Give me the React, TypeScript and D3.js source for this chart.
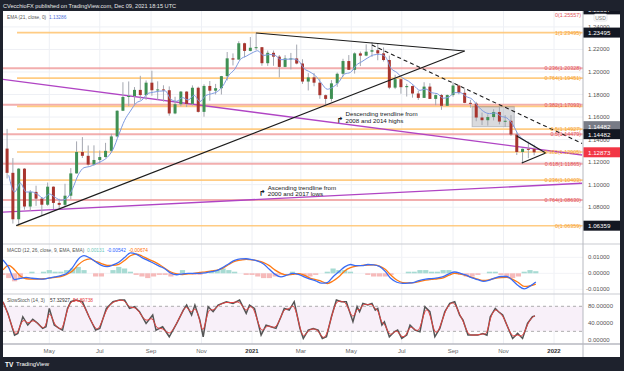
import React from "react";
import * as d3 from "d3";

const FONT = "Liberation Sans, Arial, sans-serif";
const parse = d3.timeParse("%Y-%m-%d");

// weekly candles, one per trading week (Monday start)
const weekStarts = d3.timeMonday.range(new Date(2020, 2, 9), new Date(2021, 11, 7));
const firstOpen = 1.132;
const weeklyHigh = [
  1.1495, 1.1236, 1.1147, 1.1147, 1.0952, 1.0991, 1.089, 1.1019, 1.0985, 1.0875,
  1.1008, 1.1147, 1.1384, 1.1422, 1.1348, 1.1349, 1.1303, 1.1371, 1.1452, 1.166,
  1.1909, 1.1916, 1.1866, 1.1966, 1.1925, 1.2011, 1.1917, 1.1882, 1.1872, 1.178,
  1.1831, 1.1829, 1.1881, 1.187, 1.1891, 1.192, 1.1894, 1.1965, 1.2177, 1.2165,
  1.2273, 1.226, 1.231, 1.2349, 1.2222, 1.219, 1.219, 1.215, 1.2149, 1.2169,
  1.2243, 1.2113, 1.1989, 1.199, 1.1942, 1.18, 1.1928, 1.1995, 1.2117, 1.215,
  1.2174, 1.2181, 1.2245, 1.2266, 1.2254, 1.2218, 1.2145, 1.1975, 1.1938, 1.1895,
  1.188, 1.1833, 1.1909, 1.19, 1.18, 1.1805, 1.18, 1.1909, 1.1886, 1.185,
  1.1752, 1.1735, 1.164, 1.1624, 1.1669, 1.1692, 1.1617, 1.1617, 1.1464, 1.132,
  1.1383, 1.1355,
];
const weeklyLow = [
  1.1055, 1.0655, 1.0636, 1.0778, 1.0768, 1.0812, 1.0727, 1.0812, 1.0783, 1.0775,
  1.0806, 1.087, 1.1098, 1.1237, 1.1169, 1.1168, 1.1186, 1.124, 1.129, 1.142,
  1.1653, 1.1696, 1.1711, 1.1753, 1.1753, 1.1789, 1.1753, 1.1737, 1.1612, 1.1625,
  1.1695, 1.1689, 1.1702, 1.164, 1.1603, 1.1745, 1.18, 1.18, 1.1925, 1.2058,
  1.211, 1.213, 1.2183, 1.2193, 1.2055, 1.2054, 1.2055, 1.1952, 1.2042, 1.2023,
  1.2068, 1.1894, 1.1836, 1.1873, 1.1762, 1.1704, 1.1738, 1.1868, 1.196, 1.2018,
  1.1986, 1.2052, 1.214, 1.2134, 1.2104, 1.2093, 1.1847, 1.1848, 1.1807, 1.1782,
  1.1772, 1.1752, 1.177, 1.176, 1.1705, 1.1664, 1.17, 1.178, 1.1802, 1.1723,
  1.1684, 1.1563, 1.1529, 1.1524, 1.157, 1.1535, 1.1513, 1.1432, 1.1263, 1.1186,
  1.1235, 1.126,
];
const weeklyClose = [
  1.1105, 1.0693, 1.1142, 1.0806, 1.0936, 1.0876, 1.0822, 1.0982, 1.0838, 1.0821,
  1.0902, 1.11, 1.129, 1.1256, 1.1178, 1.1219, 1.1245, 1.13, 1.1428, 1.1656,
  1.1778, 1.1787, 1.1841, 1.1795, 1.1905, 1.1838, 1.1845, 1.1838, 1.1632, 1.1714,
  1.1826, 1.1717, 1.186, 1.1646, 1.1876, 1.1834, 1.1856, 1.1963, 1.2121, 1.211,
  1.2255, 1.2187, 1.2215, 1.222, 1.2078, 1.217, 1.2136, 1.2045, 1.212, 1.212,
  1.2075, 1.1915, 1.1952, 1.1905, 1.1794, 1.1761, 1.1899, 1.1984, 1.2097, 1.2019,
  1.2165, 1.2145, 1.218, 1.2193, 1.2165, 1.2106, 1.1861, 1.1936, 1.1865, 1.1875,
  1.1809, 1.177, 1.187, 1.1761, 1.1795, 1.17, 1.1795, 1.188, 1.1815, 1.1726,
  1.172, 1.1596, 1.1572, 1.16, 1.1645, 1.156, 1.1567, 1.1445, 1.129, 1.1318,
  1.1316, 1.1287,
];
const emaStart = 1.107;

// MACD (12, 26, 9) read weekly (Friday samples)
const macdWeeks = d3.timeFriday.range(new Date(2020, 2, 6), new Date(2021, 11, 11));
const macdLine = [
  0.0083, 0.0035, -0.004, -0.0032, -0.0026, -0.0031, -0.0034, -0.0036, -0.0029, -0.0022,
  -0.0014, -0.0001, 0.0035, 0.0088, 0.011, 0.0096, 0.0072, 0.005, 0.0042, 0.0052,
  0.0069, 0.0098, 0.0128, 0.012, 0.0098, 0.0081, 0.0063, 0.0045, 0.0027, 0.0001,
  -0.0009, -0.0003, 0.0, 0.0, 0.0, 0.0003, 0.001, 0.0018, 0.0038, 0.006,
  0.0081, 0.009, 0.0091, 0.0085, 0.0076, 0.0058, 0.0025, -0.0007, -0.0022, -0.0012,
  -0.0001, -0.0006, -0.0022, -0.0036, -0.0047, -0.0062, -0.0058, -0.0021, 0.001, 0.004,
  0.0055, 0.0048, 0.0048, 0.0055, 0.0053, 0.0043, 0.0012, -0.0033, -0.0056, -0.0063,
  -0.0061, -0.0056, -0.0044, -0.0036, -0.0033, -0.0028, -0.0021, -0.0003, 0.0008, 0.0,
  -0.0012, -0.0029, -0.004, -0.005, -0.0042, -0.0028, -0.002, -0.002, -0.0045, -0.0078,
  -0.0097, -0.008, -0.0054,
];
const signalLine = [
  0.0021, 0.005, 0.0022, -0.0017, -0.0034, -0.0037, -0.0036, -0.0034, -0.003, -0.0025,
  -0.002, -0.0007, 0.0015, 0.0053, 0.008, 0.009, 0.0075, 0.0061, 0.005, 0.0049,
  0.0056, 0.008, 0.011, 0.012, 0.0108, 0.009, 0.0074, 0.0055, 0.003, 0.0008,
  -0.0004, -0.0008, -0.0004, 0.0, 0.0005, 0.0009, 0.0015, 0.002, 0.0032, 0.0055,
  0.0075, 0.0082, 0.0087, 0.0084, 0.0078, 0.0067, 0.0048, 0.002, 0.0, -0.001,
  -0.0006, -0.0002, -0.0012, -0.003, -0.004, -0.005, -0.0064, -0.0048, -0.0022, 0.0015,
  0.0035, 0.0045, 0.005, 0.0052, 0.0053, 0.0045, 0.0025, -0.0012, -0.0042, -0.0058,
  -0.006, -0.0058, -0.005, -0.0043, -0.0038, -0.0034, -0.0028, -0.0012, 0.0, -0.0005,
  -0.0014, -0.0025, -0.0037, -0.0045, -0.004, -0.0031, -0.0027, -0.0026, -0.0038, -0.0058,
  -0.0082, -0.0078, -0.0067,
];
const macdHist = [
  -0.001, -0.003, -0.005, -0.003, 0.0, 0.001, 0.0, 0.001, 0.002, 0.001,
  0.001, 0.002, 0.003, 0.004, 0.002, 0.0, -0.002, -0.002, 0.0, 0.002,
  0.004, 0.003, 0.001, -0.001, -0.002, -0.003, -0.002, -0.001, -0.001, -0.002,
  -0.001, 0.002, 0.0, -0.001, -0.001, 0.0, 0.001, 0.002, 0.003, 0.002,
  0.001, 0.0, -0.001, -0.001, -0.002, -0.003, -0.003, -0.002, -0.001, 0.0,
  0.001, -0.001, -0.002, -0.002, -0.001, 0.0, 0.001, 0.003, 0.002, 0.002,
  0.001, 0.0, 0.0, -0.001, -0.002, -0.002, -0.002, -0.001, 0.0, 0.0,
  0.001, 0.001, 0.002, 0.002, 0.001, 0.001, 0.002, 0.002, 0.0, -0.001,
  -0.002, -0.002, -0.001, 0.0, 0.001, 0.001, -0.001, -0.002, -0.003, -0.002,
  0.001, 0.002, 0.0013,
];

// Slow stochastic (14, 3) turning points
const stochK: [string, number][] = [
  ["2020-03-06", 91], ["2020-03-12", 63], ["2020-03-20", 11], ["2020-03-24", 15], ["2020-03-30", 55],
  ["2020-04-05", 35], ["2020-04-11", 49], ["2020-04-17", 39], ["2020-04-23", 27], ["2020-04-27", 31],
  ["2020-05-01", 75], ["2020-05-07", 35], ["2020-05-13", 27], ["2020-05-17", 23], ["2020-05-23", 75],
  ["2020-05-27", 91], ["2020-06-02", 95], ["2020-06-10", 91], ["2020-06-18", 55], ["2020-06-26", 23],
  ["2020-07-01", 27], ["2020-07-09", 75], ["2020-07-17", 91], ["2020-07-25", 95], ["2020-07-31", 95],
  ["2020-08-06", 75], ["2020-08-12", 79], ["2020-08-18", 67], ["2020-08-26", 39], ["2020-09-03", 59],
  ["2020-09-07", 23], ["2020-09-15", 31], ["2020-09-23", 7], ["2020-10-02", 39], ["2020-10-10", 71],
  ["2020-10-14", 83], ["2020-10-20", 59], ["2020-10-24", 83], ["2020-10-30", 47], ["2020-11-03", 7],
  ["2020-11-09", 79], ["2020-11-15", 67], ["2020-11-21", 83], ["2020-12-01", 91], ["2020-12-09", 87],
  ["2020-12-17", 95], ["2020-12-25", 63], ["2020-12-29", 83], ["2021-01-04", 75], ["2021-01-12", 11],
  ["2021-01-18", 35], ["2021-01-24", 31], ["2021-01-30", 27], ["2021-02-05", 55], ["2021-02-09", 75],
  ["2021-02-15", 71], ["2021-02-21", 91], ["2021-02-28", 27], ["2021-03-04", 3], ["2021-03-10", 23],
  ["2021-03-16", 27], ["2021-03-22", 23], ["2021-03-27", 3], ["2021-04-01", 7], ["2021-04-07", 55],
  ["2021-04-13", 95], ["2021-04-19", 91], ["2021-04-25", 91], ["2021-05-03", 43], ["2021-05-08", 79],
  ["2021-05-11", 67], ["2021-05-15", 87], ["2021-05-21", 83], ["2021-05-26", 87], ["2021-05-30", 71],
  ["2021-06-02", 75], ["2021-06-07", 35], ["2021-06-10", 43], ["2021-06-16", 7], ["2021-06-22", 19],
  ["2021-06-26", 23], ["2021-07-01", 3], ["2021-07-07", 11], ["2021-07-11", 35], ["2021-07-17", 23],
  ["2021-07-23", 19], ["2021-07-29", 79], ["2021-08-04", 67], ["2021-08-10", 7], ["2021-08-16", 27],
  ["2021-08-22", 67], ["2021-08-28", 87], ["2021-09-03", 91], ["2021-09-09", 59], ["2021-09-13", 47],
  ["2021-09-19", 11], ["2021-09-25", 11], ["2021-10-01", 11], ["2021-10-07", 15], ["2021-10-12", 11],
  ["2021-10-16", 55], ["2021-10-22", 75], ["2021-10-26", 67], ["2021-10-31", 59], ["2021-11-05", 35],
  ["2021-11-12", 3], ["2021-11-18", 15], ["2021-11-24", 3], ["2021-11-30", 39], ["2021-12-06", 55],
  ["2021-12-09", 57],
];

// Fibonacci retracements
const fibOrange: [string, number][] = [
  ["1", 1.23495], ["0.764", 1.19451], ["0.618", 1.16949], ["0.5", 1.14927],
  ["0.382", 1.12905], ["0.236", 1.10403], ["0", 1.06359],
];
const fibRed: [string, number][] = [
  ["0", 1.25557], ["0.236", 1.20328], ["0.382", 1.17093], ["0.5", 1.14479],
  ["0.618", 1.11865], ["0.764", 1.0863],
];
const fibOrangeStart = "2020-03-23";

// drawn trendlines: [date, price, date, price]
const blackLines: [string, number, string, number][] = [
  ["2020-03-22", 1.0636, "2021-09-15", 1.2186],
  ["2021-01-06", 1.2346, "2021-09-15", 1.2186],
  ["2021-11-17", 1.1432, "2021-12-22", 1.1281],
  ["2021-11-23", 1.1192, "2021-12-22", 1.1281],
];
const dashedLine: [string, number, string, number] = ["2021-05-26", 1.2239, "2022-02-04", 1.1366];
const purpleLines: [string, number, string, number][] = [
  ["2020-03-02", 1.1938, "2022-02-04", 1.1263],
  ["2020-03-02", 1.0755, "2022-02-04", 1.1012],
];
const consolidationBox: [string, number, string, number] = ["2021-09-24", 1.1692, "2021-11-14", 1.1514];

const notes = [
  { date: "2021-04-24", price: 1.163, lines: ["Descending trendline from", "2008 and 2014 highs"] },
  { date: "2021-01-20", price: 1.0977, lines: ["Ascending trendline from", "2000 and 2017 lows"] },
];

const priceTicks = [1.08, 1.1, 1.12, 1.14, 1.16, 1.18, 1.2, 1.22, 1.24];
const priceBadges = [
  { v: 1.25557, fill: "#131722", dy: 0 },
  { v: 1.23495, fill: "#131722", dy: 0 },
  { v: 1.14482, fill: "#787b86", dy: -8 },
  { v: 1.14482, fill: "#131722", dy: 0 },
  { v: 1.12873, fill: "#f23645", dy: 0 },
  { v: 1.06359, fill: "#131722", dy: 0 },
];

// pane legends: [text, colour, x]
const emaLegend: [string, string, number][] = [
  ["EMA (21, close, 0)", "#555", 7],
  ["1.13286", "#4f6fd8", 49],
];
const macdLegend: [string, string, number][] = [
  ["MACD (12, 26, close, 9, EMA, EMA)", "#555", 7],
  ["0.00131", "#6cc5b9", 87],
  ["-0.00542", "#2962ff", 107],
  ["-0.00674", "#ff6d00", 129],
];
const stochLegend: [string, string, number][] = [
  ["SlowStoch (14, 3)", "#555", 7],
  ["57.32927", "#333", 50],
  ["54.89738", "#e8413f", 73],
];

const L = 3, R = 583, AX = 620;
const MAIN_T = 11, MAIN_B = 244, MACD_B = 294, STOCH_B = 344, TIME_B = 357;

function Legend({ items, y }: { items: [string, string, number][]; y: number }) {
  return (
    <g fontSize={4.8} dominantBaseline="central">
      {items.map(([t, c, x0]) => (
        <text key={t} x={x0} y={y} fill={c}>{t}</text>
      ))}
    </g>
  );
}

export default function App() {
  const x = d3.scaleTime().domain([new Date(2021, 0, 1), new Date(2022, 0, 1)]).range([252, 554]);
  const yP = d3.scaleLinear().domain([1.08, 1.24]).range([207.2, 26.9]);
  const yM = d3.scaleLinear().domain([-0.01, 0.01]).range([289.3, 257.3]);
  const yS = d3.scaleLinear().domain([0, 80]).range([339.7, 306.3]);

  const timeTicks = d3.timeMonth.every(2)!.range(new Date(2020, 3, 2), new Date(2022, 0, 2));
  const fmtTick = (d: Date) => (d.getMonth() === 0 ? d3.timeFormat("%Y")(d) : d3.timeFormat("%b")(d));

  const ema: [Date, number][] = [];
  let e = emaStart;
  weeklyClose.forEach((c, i) => {
    e = e + 0.38 * (c - e);
    ema.push([d3.timeDay.offset(weekStarts[i], 4), e]);
  });
  const emaPath = d3.line<[Date, number]>().x((d) => x(d[0])).y((d) => yP(d[1])).curve(d3.curveMonotoneX)(ema);

  const mLine = (vals: number[]) =>
    d3.line<number>().x((_, i) => x(macdWeeks[i])).y((v) => yM(v)).curve(d3.curveMonotoneX)(vals);

  const stochPts = stochK.map(([d, v]) => [parse(d)!, v] as [Date, number]);
  const kPath = d3.line<[Date, number]>().x((d) => x(d[0])).y((d) => yS(d[1]))(stochPts);
  const dPath = d3.line<[Date, number]>().x((d) => x(d[0])).y((d) => yS(d[1])).curve(d3.curveBasis)(stochPts);

  const seg = (s: [string, number, string, number]) => ({
    x1: x(parse(s[0])!), y1: yP(s[1]), x2: x(parse(s[2])!), y2: yP(s[3]),
  });
  const box = seg(consolidationBox);

  return (
    <svg width={624} height={371} style={{ position: "fixed", left: 0, top: 0, background: "#fff" }} fontFamily={FONT}>
      <defs>
        <clipPath id="mainClip"><rect x={L} y={MAIN_T} width={R - L} height={MAIN_B - MAIN_T} /></clipPath>
        <clipPath id="macdClip"><rect x={L} y={MAIN_B} width={R - L} height={MACD_B - MAIN_B} /></clipPath>
        <clipPath id="stochClip"><rect x={L} y={MACD_B} width={R - L} height={STOCH_B - MACD_B} /></clipPath>
      </defs>
      <rect x={0} y={0} width={624} height={371} fill="#fff" />

      {/* grid */}
      {timeTicks.map((d, i) => (
        <line key={i} x1={x(d)} x2={x(d)} y1={MAIN_T} y2={STOCH_B} stroke="#eef0f5" />
      ))}
      {priceTicks.map((p) => (
        <line key={p} x1={L} x2={R} y1={yP(p)} y2={yP(p)} stroke="#eef0f5" />
      ))}

      {/* main pane */}
      <g clipPath="url(#mainClip)">
        {fibRed.map(([k, p]) => (
          <line key={"r" + k} x1={L} x2={R} y1={yP(p)} y2={yP(p)} stroke="#f09a9a" strokeWidth={2} opacity={0.8} />
        ))}
        {fibOrange.map(([k, p]) => (
          <line key={"o" + k} x1={x(parse(fibOrangeStart)!)} x2={R} y1={yP(p)} y2={yP(p)} stroke="#ffc777" strokeWidth={1.6} opacity={0.9} />
        ))}
        <rect x={box.x1} y={box.y1} width={box.x2 - box.x1} height={box.y2 - box.y1} fill="rgba(120,123,134,0.28)" stroke="rgba(120,123,134,0.4)" />
        {purpleLines.map((s, i) => (
          <line key={i} {...seg(s)} stroke="#b044c4" strokeWidth={1.4} />
        ))}
        {weekStarts.map((d, i) => {
          const cx = x(d3.timeDay.offset(d, 2));
          const o = i === 0 ? firstOpen : weeklyClose[i - 1];
          const c = weeklyClose[i];
          const top = yP(Math.max(o, c));
          const h = Math.max(1, Math.abs(yP(o) - yP(c)));
          return (
            <g key={i}>
              <line x1={cx} x2={cx} y1={yP(weeklyHigh[i])} y2={yP(weeklyLow[i])} stroke="#a4a7b0" strokeWidth={1} />
              <rect x={cx - 1.5} y={top} width={3} height={h} fill={c >= o ? "#3f9054" : "#a8352e"} />
            </g>
          );
        })}
        <path d={emaPath!} fill="none" stroke="#7e9ae0" strokeWidth={1} />
        {blackLines.map((s, i) => (
          <line key={i} {...seg(s)} stroke="#1c1c1c" strokeWidth={1.2} />
        ))}
        <line {...seg(dashedLine)} stroke="#1c1c1c" strokeWidth={1.1} strokeDasharray="4,3" />
        {notes.map((n, i) => (
          <g key={i} fontSize={6.2} fill="#131722">
            <text x={x(parse(n.date)!) - 9} y={yP(n.price) + 6.6} fontFamily="DejaVu Sans" fontSize={8} fontWeight="bold" dominantBaseline="central">↱</text>
            {n.lines.map((t, j) => (
              <text key={j} x={x(parse(n.date)!)} y={yP(n.price) + j * 6.6} dominantBaseline="central">{t}</text>
            ))}
          </g>
        ))}
        {fibRed.map(([k, p]) => (
          <text key={"rl" + k} x={R - 2} y={Math.max(yP(p), 15)} textAnchor="end" dominantBaseline="central" fontSize={5.4} fill="#e2545a">{`${k}(${p.toFixed(5)})`}</text>
        ))}
        {fibOrange.filter(([k]) => k !== "0.618").map(([k, p]) => (
          <text key={"ol" + k} x={R - 2} y={yP(p)} textAnchor="end" dominantBaseline="central" fontSize={5.4} fill="#f5a030">{`${k}(${p.toFixed(5)})`}</text>
        ))}
      </g>
      <Legend items={emaLegend} y={17} />

      {/* MACD pane */}
      {[0.01, 0, -0.01].map((v) => (
        <line key={v} x1={L} x2={R} y1={yM(v)} y2={yM(v)} stroke="#f2f3f7" />
      ))}
      <g clipPath="url(#macdClip)">
        {macdHist.map((v, i) => (
          <rect key={i} x={x(macdWeeks[i]) - 2.6} width={5.2} y={Math.min(yM(v), yM(0))} height={Math.abs(yM(v) - yM(0))} fill={v >= 0 ? "#a7dbd3" : "#f6baba"} />
        ))}
        <path d={mLine(signalLine)!} fill="none" stroke="#ff7a12" strokeWidth={1.3} />
        <path d={mLine(macdLine)!} fill="none" stroke="#3a6cf4" strokeWidth={1.3} />
      </g>
      <Legend items={macdLegend} y={250.5} />

      {/* Stochastic pane */}
      <rect x={L} y={yS(80)} width={R - L} height={yS(20) - yS(80)} fill="#f8f0f9" />
      {[80, 20].map((v) => (
        <line key={v} x1={L} x2={R} y1={yS(v)} y2={yS(v)} stroke="#9a9a9a" strokeDasharray="3,3" strokeWidth={0.8} />
      ))}
      <g clipPath="url(#stochClip)">
        <path d={kPath!} fill="none" stroke="#555" strokeWidth={1.5} />
        <path d={dPath!} fill="none" stroke="#e8413f" strokeWidth={1} />
      </g>
      <Legend items={stochLegend} y={300} />

      {/* pane borders */}
      <line x1={L} x2={AX} y1={MAIN_B} y2={MAIN_B} stroke="#c9cbd2" strokeWidth={1.2} />
      <line x1={L} x2={AX} y1={MACD_B} y2={MACD_B} stroke="#c9cbd2" strokeWidth={1.2} />
      <line x1={L} x2={AX} y1={STOCH_B} y2={STOCH_B} stroke="#b7b9c0" strokeWidth={1.4} />
      <line x1={R} x2={R} y1={MAIN_T} y2={TIME_B} stroke="#b7b9c0" strokeWidth={1} />

      {/* price axis */}
      <g fontSize={6} fill="#555" dominantBaseline="central">
        {priceTicks.map((p) => (
          <text key={p} x={588} y={yP(p)}>{p.toFixed(5)}</text>
        ))}
        {[0.01, 0, -0.01].map((v) => (
          <text key={v} x={v < 0 ? 586 : 588} y={yM(v)}>{v.toFixed(5)}</text>
        ))}
        {[80, 40, 0].map((v) => (
          <text key={v} x={588} y={yS(v)}>{v.toFixed(5)}</text>
        ))}
      </g>
      {priceBadges.map((b, i) => (
        <g key={i}>
          <rect x={R + 0.5} y={yP(b.v) + b.dy - 5} width={AX - R - 0.5} height={10} fill={b.fill} />
          <text x={588} y={yP(b.v) + b.dy} fontSize={6.2} fill="#fff" dominantBaseline="central">{b.v.toFixed(5)}</text>
        </g>
      ))}
      <rect x={594} y={14} width={13} height={7} rx={1.5} fill="#fff" stroke="#d5d7de" strokeWidth={0.6} />
      <text x={600.5} y={17.6} fontSize={5} fill="#777" textAnchor="middle" dominantBaseline="central">USD</text>

      {/* time axis */}
      {timeTicks.map((d, i) => (
        <text key={i} x={x(d)} y={351} fontSize={6} textAnchor="middle" dominantBaseline="central"
          fill={d.getMonth() === 0 ? "#333" : "#666"} fontWeight={d.getMonth() === 0 ? "bold" : "normal"}>
          {fmtTick(d)}
        </text>
      ))}

      {/* frame */}
      <rect x={0} y={0} width={624} height={MAIN_T} fill="#1e222d" />
      <rect x={0} y={0} width={L} height={371} fill="#1e222d" />
      <rect x={AX} y={0} width={624 - AX} height={371} fill="#1e222d" />
      <rect x={0} y={TIME_B} width={624} height={371 - TIME_B} fill="#1e222d" />
      <text x={3} y={5.6} fontSize={5.6} fill="#e8e8e8" dominantBaseline="central">
        CVecchioFX published on TradingView.com, Dec 09, 2021 18:15 UTC
      </text>
      <text x={5} y={364} fontSize={6.5} fontWeight="bold" fill="#fff" dominantBaseline="central">TV</text>
      <text x={16} y={364} fontSize={6} fill="#fff" dominantBaseline="central">TradingView</text>
    </svg>
  );
}
